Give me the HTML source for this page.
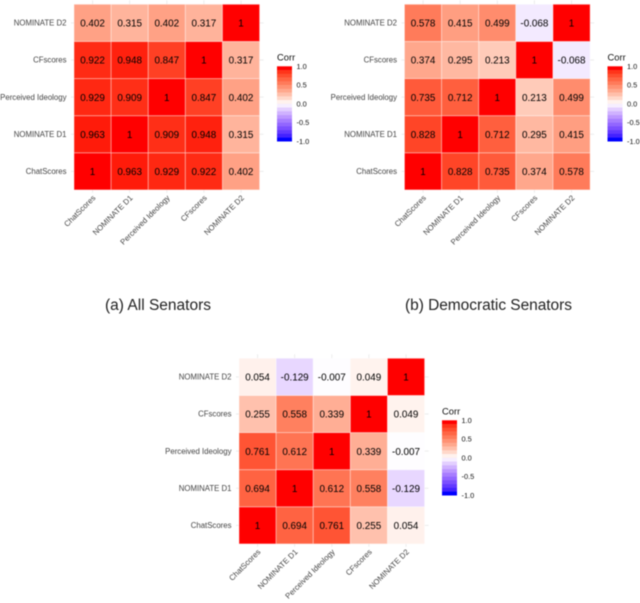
<!DOCTYPE html>
<html lang="en">
<head>
<meta charset="utf-8">
<title>Correlation heatmaps</title>
<style>
html,body{margin:0;padding:0;background:#fff;width:640px;height:603px;overflow:hidden}
svg{display:block;filter:blur(.45px);font-family:"Liberation Sans",Arial,sans-serif}
</style>
</head>
<body>
<svg id="figure" xmlns="http://www.w3.org/2000/svg" width="640" height="603" viewBox="0 0 640 603">
<rect width="640" height="603" fill="#fff"/>
<text x="105" y="310" font-size="15.5" fill="#222" textLength="106" lengthAdjust="spacing">(a) All Senators</text>
<text x="405" y="310" font-size="15.5" fill="#222" textLength="167" lengthAdjust="spacing">(b) Democratic Senators</text>
</svg>
<script>
const variables = ["ChatScores", "NOMINATE D1", "Perceived Ideology", "CFscores", "NOMINATE D2"];
const legendTicks = [1, 0.5, 0, -0.5, -1];
const legendLabels = ["1.0", "0.5", "0.0", "-0.5", "-1.0"];
const legendTitle = "Corr";
const legendBins = 20;

// Matrices: row index = y variable, column index = x variable
const allSenators = [
  [1, 0.963, 0.929, 0.922, 0.402],
  [0.963, 1, 0.909, 0.948, 0.315],
  [0.929, 0.909, 1, 0.847, 0.402],
  [0.922, 0.948, 0.847, 1, 0.317],
  [0.402, 0.315, 0.402, 0.317, 1]
];
const democraticSenators = [
  [1, 0.828, 0.735, 0.374, 0.578],
  [0.828, 1, 0.712, 0.295, 0.415],
  [0.735, 0.712, 1, 0.213, 0.499],
  [0.374, 0.295, 0.213, 1, -0.068],
  [0.578, 0.415, 0.499, -0.068, 1]
];
const republicanSenators = [
  [1, 0.694, 0.761, 0.255, 0.054],
  [0.694, 1, 0.612, 0.558, -0.129],
  [0.761, 0.612, 1, 0.339, -0.007],
  [0.255, 0.558, 0.339, 1, 0.049],
  [0.054, -0.129, -0.007, 0.049, 1]
];

const svg = document.getElementById('figure');
const NS = 'http://www.w3.org/2000/svg';
const PANEL = 185.6;
const LEGEND_W = 15;
const LEGEND_H = 75;

function node(parent, tag, props, text) {
  const el = document.createElementNS(NS, tag);
  for (const k in props) el.setAttribute(k, props[k]);
  if (text !== undefined) el.textContent = text;
  parent.appendChild(el);
  return el;
}

// sRGB <-> Lab colour interpolation
function toLab(c) {
  const f = c.map(v => { v /= 255; return v > 0.04045 ? Math.pow((v + 0.055) / 1.055, 2.4) : v / 12.92; });
  const X = (0.4124564 * f[0] + 0.3575761 * f[1] + 0.1804375 * f[2]) / 0.95047;
  const Y = 0.2126729 * f[0] + 0.7151522 * f[1] + 0.072175 * f[2];
  const Z = (0.0193339 * f[0] + 0.119192 * f[1] + 0.9503041 * f[2]) / 1.08883;
  const g = t => t > 0.008856 ? Math.cbrt(t) : 7.787 * t + 16 / 116;
  return [116 * g(Y) - 16, 500 * (g(X) - g(Y)), 200 * (g(Y) - g(Z))];
}
function fromLab(l) {
  const fy = (l[0] + 16) / 116, fx = fy + l[1] / 500, fz = fy - l[2] / 200;
  const h = t => t * t * t > 0.008856 ? t * t * t : (t - 16 / 116) / 7.787;
  const X = h(fx) * 0.95047, Y = h(fy), Z = h(fz) * 1.08883;
  const lin = [
    3.2404542 * X - 1.5371385 * Y - 0.4985314 * Z,
    -0.969266 * X + 1.8760108 * Y + 0.041556 * Z,
    0.0556434 * X - 0.2040259 * Y + 1.0572252 * Z
  ];
  return lin.map(v => {
    v = Math.max(0, Math.min(1, v));
    v = v > 0.0031308 ? 1.055 * Math.pow(v, 1 / 2.4) - 0.055 : 12.92 * v;
    return Math.round(v * 255);
  });
}
const LAB_WHITE = toLab([255, 255, 255]);
const LAB_RED = toLab([255, 0, 0]);
const LAB_BLUE = toLab([0, 0, 255]);
function fillScale(v) {
  const a = Math.min(1, Math.abs(v));
  const t = a + 0.35 * a * (1 - a);
  const end = v >= 0 ? LAB_RED : LAB_BLUE;
  const rgb = fromLab(LAB_WHITE.map((w, i) => w + (end[i] - w) * t));
  return 'rgb(' + rgb.join(',') + ')';
}

function drawHeatmap(matrix, name, x0, y0) {
  const n = variables.length;
  const cell = PANEL / n;
  const xPos = i => x0 + cell * (i + 0.5);
  const yPos = i => y0 + PANEL - cell * (i + 0.5);

  const g = node(svg, 'g', {});
  
  

  variables.forEach((label, i) => {
    const gx = node(g, 'line', { x1: xPos(i), x2: xPos(i), y1: y0 - 4, y2: y0 + PANEL + 3, stroke: '#e6e6e6', 'stroke-width': 0.7 });
    
    
    const gy = node(g, 'line', { x1: x0 - 3, x2: x0 + PANEL + 4, y1: yPos(i), y2: yPos(i), stroke: '#e6e6e6', 'stroke-width': 0.7 });
    
    

    const yl = node(g, 'text', { x: x0 - 7.5, y: yPos(i) + 2.7, 'text-anchor': 'end', 'font-size': 7.8, fill: '#444' }, label);
    
    

    const ax = xPos(i) + 3.5, ay = y0 + PANEL + 8.5;
    const xl = node(g, 'text', { x: ax, y: ay, 'text-anchor': 'end', 'font-size': 7.8, fill: '#444', transform: 'rotate(-45 ' + ax + ' ' + ay + ')' }, label);
    
    
  });

  matrix.forEach((row, r) => {
    row.forEach((value, c) => {
      const tile = node(g, 'rect', {
        x: xPos(c) - cell / 2, y: yPos(r) - cell / 2, width: cell, height: cell,
        fill: fillScale(value), stroke: '#ffffff', 'stroke-opacity': 0.4, 'stroke-width': 0.9
      });
      
      
    });
  });
  matrix.forEach((row, r) => {
    row.forEach((value, c) => {
      const t = node(g, 'text', { x: xPos(c), y: yPos(r) + 3.7, 'text-anchor': 'middle', 'font-size': 9.9, fill: '#000' }, String(value));
      
      
    });
  });

  // Legend
  const lx = x0 + 203, ly = y0 + 62;
  const legendY = v => ly + LEGEND_H * (1 - v) / 2;
  const legend = node(g, 'g', {});
  
  
  const title = node(legend, 'text', { x: lx, y: ly - 6, 'font-size': 9.4, fill: '#111' }, legendTitle);
  
  
  for (let b = 0; b < legendBins; b++) {
    const v = 1 - 2 * b / (legendBins - 1);
    const h = LEGEND_H / legendBins;
    const bin = node(legend, 'rect', { x: lx, y: ly + b * h, width: LEGEND_W, height: h + 0.2, fill: fillScale(v) });
    
    
  }
  legendTicks.forEach((v, i) => {
    const lab = node(legend, 'text', { x: lx + 19.5, y: legendY(v) + 2.6, 'font-size': 7.4, fill: '#111' }, legendLabels[i]);
    
    
  });
}

drawHeatmap(allSenators, 'all-senators', 74, 4.3);
drawHeatmap(democraticSenators, 'democratic-senators', 404.5, 4.3);
drawHeatmap(republicanSenators, 'republican-senators', 239, 358.3);
</script>
</body>
</html>
